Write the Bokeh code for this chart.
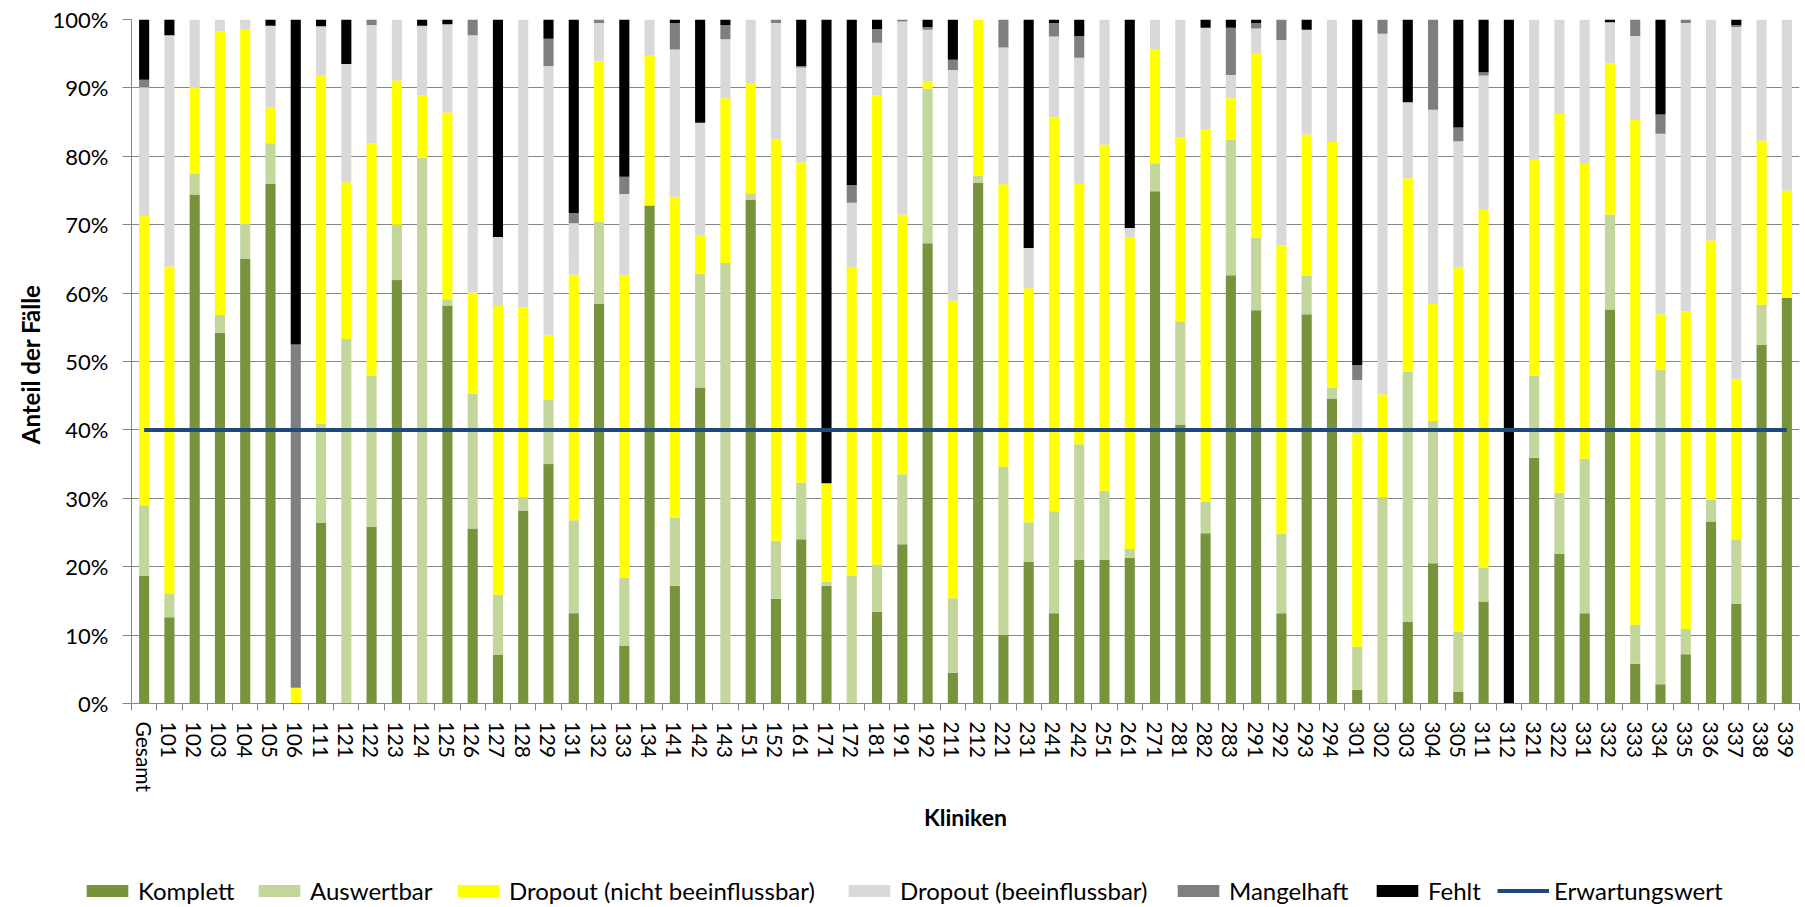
from bokeh.plotting import figure
from bokeh.layouts import column
from bokeh.models import (ColumnDataSource, FixedTicker, PrintfTickFormatter,
                          Legend, LegendItem, Range1d)
from bokeh.embed import file_html
from bokeh.resources import INLINE

# Kliniken (x-axis categories)
kliniken = ["Gesamt", "101", "102", "103", "104", "105", "106", "111", "121", "122",
            "123", "124", "125", "126", "127", "128", "129", "131", "132", "133",
            "134", "141", "142", "143", "151", "152", "161", "171", "172", "181",
            "191", "192", "211", "212", "221", "231", "241", "242", "251", "261",
            "271", "281", "282", "283", "291", "292", "293", "294", "301", "302",
            "303", "304", "305", "311", "312", "321", "322", "331", "332", "333",
            "334", "335", "336", "337", "338", "339"]

# Shares of cases per clinic, in percent
komplett = [18.7, 12.6, 74.4, 54.2, 65.0, 76.0, 0.0, 26.4, 0.0, 25.8,
            61.9, 0.0, 58.2, 25.6, 7.1, 28.2, 35.0, 13.2, 58.4, 8.4,
            72.8, 17.2, 46.2, 0.0, 73.6, 15.3, 24.0, 17.2, 0.0, 13.4,
            23.3, 67.3, 4.5, 76.1, 10.0, 20.7, 13.2, 21.0, 21.0, 21.3,
            74.9, 40.8, 24.9, 62.6, 57.5, 13.2, 56.9, 44.6, 2.0, 0.0,
            11.9, 20.5, 1.7, 14.9, 0.0, 35.9, 21.9, 13.2, 57.6, 5.8,
            2.8, 7.2, 26.6, 14.6, 52.4, 59.3]
auswertbar = [10.3, 3.4, 3.0, 2.6, 5.1, 5.9, 0.0, 14.5, 53.3, 22.1,
              8.1, 79.8, 0.9, 19.7, 8.8, 2.0, 9.4, 13.6, 12.0, 10.0,
              0.0, 10.0, 16.6, 64.4, 1.0, 8.5, 8.3, 0.6, 18.7, 6.9,
              10.2, 22.6, 10.9, 1.1, 24.6, 5.8, 14.9, 16.9, 10.1, 1.3,
              4.1, 15.1, 4.6, 19.8, 10.6, 11.6, 5.6, 1.6, 6.3, 30.2,
              36.6, 20.8, 8.8, 5.0, 0.0, 12.0, 8.9, 22.6, 13.9, 5.7,
              46.0, 3.7, 3.2, 9.4, 5.9, 0.0]
dropout_nicht = [42.3, 47.9, 12.6, 41.5, 28.4, 5.3, 2.3, 51.0, 22.9, 34.0,
                 21.1, 9.1, 27.3, 14.8, 42.2, 27.7, 9.5, 35.9, 23.5, 44.2,
                 22.0, 46.9, 5.6, 24.1, 16.0, 58.7, 46.8, 14.4, 45.1, 68.6,
                 38.0, 1.0, 43.5, 22.8, 41.3, 34.2, 57.6, 38.1, 50.6, 45.6,
                 16.7, 26.9, 54.5, 6.1, 26.9, 42.2, 20.7, 35.9, 31.2, 15.0,
                 28.3, 17.1, 53.2, 52.3, 0.0, 31.6, 55.4, 43.1, 22.1, 73.8,
                 8.1, 46.4, 37.9, 23.4, 24.0, 15.7]
dropout_beein = [18.8, 33.8, 10.0, 1.7, 1.5, 11.9, 0.0, 7.1, 17.3, 17.3,
                 8.9, 10.2, 12.9, 37.6, 10.1, 42.1, 39.3, 7.5, 5.6, 11.9,
                 5.2, 21.5, 16.5, 8.6, 9.4, 17.0, 13.9, 0.0, 9.4, 7.7,
                 28.2, 7.6, 33.7, 0.0, 20.0, 5.9, 11.8, 18.4, 18.3, 1.3,
                 4.3, 17.2, 14.8, 3.4, 3.7, 30.0, 15.3, 17.9, 7.8, 52.7,
                 11.1, 28.4, 18.5, 19.6, 0.0, 20.5, 13.8, 21.1, 6.0, 12.3,
                 26.4, 42.2, 32.3, 51.5, 17.7, 25.0]
mangelhaft = [1.1, 0.0, 0.0, 0.0, 0.0, 0.0, 50.2, 0.0, 0.0, 0.8,
              0.0, 0.0, 0.0, 2.3, 0.0, 0.0, 4.0, 1.5, 0.5, 2.5,
              0.0, 3.9, 0.0, 2.1, 0.0, 0.5, 0.2, 0.0, 2.6, 2.0,
              0.3, 0.4, 1.5, 0.0, 4.1, 0.0, 2.0, 3.2, 0.0, 0.0,
              0.0, 0.0, 0.0, 6.9, 0.8, 3.0, 0.0, 0.0, 2.2, 2.1,
              0.0, 13.2, 2.0, 0.5, 0.0, 0.0, 0.0, 0.0, 0.0, 2.4,
              2.8, 0.5, 0.0, 0.3, 0.0, 0.0]
fehlt = [8.8, 2.3, 0.0, 0.0, 0.0, 0.9, 47.5, 1.0, 6.5, 0.0,
         0.0, 0.9, 0.7, 0.0, 31.8, 0.0, 2.8, 28.3, 0.0, 23.0,
         0.0, 0.5, 15.1, 0.8, 0.0, 0.0, 6.8, 67.8, 24.2, 1.4,
         0.0, 1.1, 5.9, 0.0, 0.0, 33.4, 0.5, 2.4, 0.0, 30.5,
         0.0, 0.0, 1.2, 1.2, 0.5, 0.0, 1.5, 0.0, 50.5, 0.0,
         12.1, 0.0, 15.8, 7.7, 100.0, 0.0, 0.0, 0.0, 0.4, 0.0,
         13.9, 0.0, 0.0, 0.8, 0.0, 0.0]
erwartungswert = 40.0

y_ticks = [0, 10, 20, 30, 40, 50, 60, 70, 80, 90, 100]

series = ["komplett", "auswertbar", "dropout_nicht", "dropout_beein", "mangelhaft", "fehlt"]
labels = ["Komplett", "Auswertbar", "Dropout (nicht beeinflussbar)",
          "Dropout (beeinflussbar)", "Mangelhaft", "Fehlt"]
colors = ["#77933C", "#C3D69B", "#FFFF00", "#D9D9D9", "#7F7F7F", "#000000"]
LINE_COLOR = "#1F497D"

n = len(kliniken)
pos = list(range(1, n + 1))
source = ColumnDataSource(dict(
    pos=pos, komplett=komplett, auswertbar=auswertbar, dropout_nicht=dropout_nicht,
    dropout_beein=dropout_beein, mangelhaft=mangelhaft, fehlt=fehlt,
    erwartung=[erwartungswert] * n,
))

FONT = "Lato"
GRID = "#868686"

# ---- main chart -------------------------------------------------------------
p = figure(width=1805, height=860, output_backend="svg", toolbar_location=None,
           x_range=Range1d(0.5, n + 0.5), y_range=Range1d(0, 100),
           min_border_left=131, min_border_right=6, min_border_top=19,
           min_border_bottom=157, background_fill_color="white",
           border_fill_color="white")
p.frame_align = False
p.outline_line_color = None

p.vbar_stack(series, x="pos", width=0.4, source=source,
             color=colors, line_color=None)
p.line(x="pos", y="erwartung", source=source, line_color=LINE_COLOR, line_width=4)

# y axis
p.yaxis.ticker = FixedTicker(ticks=y_ticks)
p.yaxis.formatter = PrintfTickFormatter(format="%d%%")
p.yaxis.axis_line_color = GRID
p.yaxis.major_tick_line_color = GRID
p.yaxis.major_tick_out = 9
p.yaxis.major_tick_in = 0
p.yaxis.minor_tick_line_color = None
p.yaxis.major_label_standoff = 14
p.yaxis.major_label_text_font = FONT
p.yaxis.major_label_text_font_size = "22px"
p.yaxis.major_label_text_color = "#000000"
p.yaxis.axis_label = "Anteil der  Fälle"
p.yaxis.axis_label_text_font = FONT
p.yaxis.axis_label_text_font_size = "24px"
p.yaxis.axis_label_text_font_style = "bold"
p.yaxis.axis_label_text_color = "#000000"
p.yaxis.axis_label_standoff = 5

# x axis: labels at bar centres, tick marks between categories
p.xaxis.ticker = FixedTicker(ticks=pos, minor_ticks=[i + 0.5 for i in range(0, n + 1)])
p.xaxis.major_label_overrides = {i: k for i, k in zip(pos, kliniken)}
p.xaxis.major_tick_line_color = None
p.xaxis.major_tick_out = 0
p.xaxis.major_tick_in = 0
p.xaxis.minor_tick_line_color = GRID
p.xaxis.minor_tick_out = 7
p.xaxis.minor_tick_in = 0
p.xaxis.axis_line_color = GRID
p.xaxis.major_label_orientation = "vertical"
p.xaxis.major_label_standoff = 11
p.xaxis.major_label_text_font = FONT
p.xaxis.major_label_text_font_size = "21px"
p.xaxis.major_label_text_color = "#000000"
p.xaxis.axis_label = "Kliniken"
p.xaxis.axis_label_text_font = FONT
p.xaxis.axis_label_text_font_size = "23px"
p.xaxis.axis_label_text_font_style = "bold"
p.xaxis.axis_label_text_color = "#000000"
p.xaxis.axis_label_standoff = 8

p.xgrid.visible = False
p.ygrid.ticker = FixedTicker(ticks=y_ticks)
p.ygrid.grid_line_color = GRID
p.ygrid.grid_line_width = 1

# ---- legend strip -------------------------------------------------------------
# Swatch renderers lie far outside the strip's ranges; only their legend entries show.
leg = figure(width=1805, height=47, output_backend="svg", toolbar_location=None,
             x_range=Range1d(1000, 1001), y_range=Range1d(1000, 1001),
             x_axis_location=None, y_axis_location=None,
             min_border=0, background_fill_color="white", border_fill_color="white")
leg.frame_align = False
leg.outline_line_color = None
leg.xgrid.visible = False
leg.ygrid.visible = False
swatches = leg.vbar_stack(series, x="pos", width=0.4, source=source,
                          color=colors, line_color=None)
swatch_line = leg.line(x="pos", y="erwartung", source=source,
                       line_color=LINE_COLOR, line_width=4)

entry_labels = labels + ["Erwartungswert"]
entry_renderers = list(swatches) + [swatch_line]
entry_x = [81, 253, 452, 843, 1172, 1371, 1497]
for lab, r, x0 in zip(entry_labels, entry_renderers, entry_x):
    leg.add_layout(Legend(
        items=[LegendItem(label=lab, renderers=[r])], location=(x0, 2),
        orientation="horizontal", glyph_width=52, glyph_height=15,
        label_standoff=5, padding=0, margin=0, border_line_color=None,
        background_fill_alpha=0, label_text_font=FONT,
        label_text_font_size="24px", label_text_color="#000000"))

layout = column(p, leg, spacing=0)
open("out.html", "w").write(file_html(layout, INLINE))
